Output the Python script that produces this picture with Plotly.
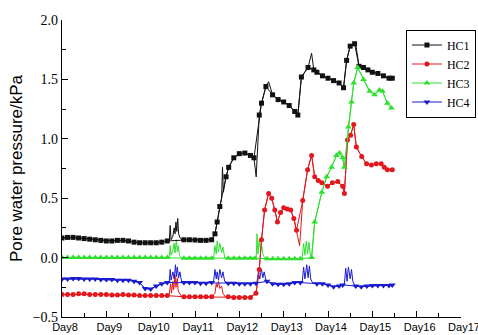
import plotly.graph_objects as go

# ---------------- data ----------------
day_ticks = [8, 9, 10, 11, 12, 13, 14, 15, 16, 17]
day_labels = ["Day8", "Day9", "Day10", "Day11", "Day12", "Day13", "Day14", "Day15", "Day16", "Day17"]
series_names = ["HC1", "HC2", "HC3", "HC4"]

# HC1 regular readings
hc1_t = [8.0, 8.125, 8.25, 8.375, 8.5, 8.625, 8.75, 8.875, 9.0, 9.125, 9.25, 9.375, 9.5, 9.625, 9.75,
         9.875, 10.0, 10.125, 10.25, 10.375, 10.75, 10.875, 11.0, 11.125, 11.25, 11.375, 11.45, 11.5,
         11.56, 11.7, 11.76, 11.875, 12.0, 12.125, 12.25, 12.33, 12.45, 12.5, 12.6, 12.75, 12.875,
         13.0, 13.125, 13.25, 13.32, 13.4, 13.55, 13.68, 13.75, 13.875, 14.0, 14.125, 14.25, 14.35,
         14.42, 14.5, 14.6, 14.7, 14.8, 14.9, 15.0, 15.125, 15.25, 15.375, 15.45]
hc1_v = [0.165, 0.17, 0.17, 0.165, 0.16, 0.155, 0.15, 0.145, 0.14, 0.14, 0.145, 0.145, 0.14, 0.13, 0.125,
         0.125, 0.125, 0.125, 0.13, 0.14, 0.15, 0.15, 0.148, 0.145, 0.145, 0.15, 0.2, 0.3,
         0.43, 0.68, 0.76, 0.84, 0.875, 0.88, 0.86, 0.84, 1.2, 1.3, 1.44, 1.37, 1.33,
         1.31, 1.28, 1.23, 1.2, 1.52, 1.6, 1.58, 1.56, 1.53, 1.51, 1.49, 1.47, 1.43,
         1.66, 1.78, 1.8, 1.61, 1.6, 1.58, 1.56, 1.55, 1.53, 1.51, 1.51]
# HC1 short fluctuations (drawn as thin line only)
hc1_spk_t = [10.42, 10.44, 10.46, 10.5, 10.53, 10.55, 10.57, 10.59, 10.61, 10.63, 10.66, 10.7,
             11.6, 11.62, 11.64, 12.38, 12.66, 13.63, 14.62]
hc1_spk_v = [0.14, 0.27, 0.15, 0.18, 0.25, 0.2, 0.3, 0.22, 0.33, 0.2, 0.17, 0.15,
             0.5, 0.76, 0.55, 0.68, 1.48, 1.72, 1.81]

# HC2
hc2_t = [8.0, 8.125, 8.25, 8.375, 8.5, 8.625, 8.75, 8.875, 9.0, 9.125, 9.25, 9.375, 9.5, 9.625, 9.75,
         9.875, 10.0, 10.125, 10.25, 10.375, 10.75, 10.875, 11.0, 11.125, 11.25, 11.375, 11.75, 11.875,
         12.0, 12.125, 12.25, 12.375, 12.45, 12.5, 12.57, 12.66, 12.73, 12.8, 12.86, 12.93, 13.0,
         13.08, 13.16, 13.23, 13.29, 13.43, 13.54, 13.63, 13.7, 13.78, 13.86, 13.99, 14.1, 14.22,
         14.33, 14.37, 14.44, 14.51, 14.58, 14.64, 14.76, 14.87, 14.98, 15.09, 15.2, 15.27, 15.34, 15.45]
hc2_v = [-0.31, -0.31, -0.31, -0.305, -0.305, -0.31, -0.31, -0.31, -0.31, -0.315, -0.315, -0.31, -0.315,
         -0.315, -0.32, -0.32, -0.32, -0.32, -0.32, -0.32, -0.33, -0.33, -0.33, -0.33, -0.33, -0.33,
         -0.33, -0.335, -0.335, -0.335, -0.335, -0.3, -0.1, 0.15, 0.4, 0.54, 0.5, 0.4, 0.3, 0.38, 0.42,
         0.41, 0.4, 0.33, 0.23, 0.48, 0.74, 0.86, 0.68, 0.65, 0.63, 0.6, 0.63, 0.64,
         0.6, 0.54, 0.99, 1.03, 1.12, 0.93, 0.85, 0.79, 0.78, 0.79, 0.79, 0.76, 0.74, 0.74]
hc2_spk_t = [10.42, 10.45, 10.47, 10.5, 10.52, 10.55, 10.57, 10.6, 10.62, 10.65, 10.7,
             11.45, 11.48, 11.5, 11.53, 11.56, 11.6, 11.63, 11.68, 13.36]
hc2_spk_v = [-0.31, -0.22, -0.3, -0.2, -0.27, -0.15, -0.25, -0.17, -0.28, -0.3, -0.33,
             -0.3, -0.22, -0.25, -0.2, -0.26, -0.24, -0.3, -0.33, 0.1]

# HC3
hc3_t = [8.0, 8.125, 8.25, 8.375, 8.5, 8.625, 8.75, 8.875, 9.0, 9.125, 9.25, 9.375, 9.5, 9.625, 9.75,
         9.875, 10.0, 10.125, 10.25, 10.375, 10.75, 10.875, 11.0, 11.125, 11.25, 11.375, 11.75, 11.875,
         12.0, 12.125, 12.25, 12.35, 12.625, 12.75, 12.875, 13.0, 13.125, 13.25, 13.375, 13.63,
         13.7, 13.86, 13.97, 14.08, 14.19, 14.26, 14.33, 14.37, 14.46, 14.53, 14.58, 14.67, 14.8,
         14.94, 15.05, 15.16, 15.23, 15.34, 15.43]
hc3_v = [0.0, 0.0, 0.0, 0.0, 0.0, 0.0, 0.0, 0.0, 0.0, 0.0, 0.0, 0.0, 0.0, 0.0, 0.0,
         0.0, 0.0, 0.0, 0.0, 0.0, -0.005, -0.005, -0.005, -0.005, -0.005, -0.005, -0.005, -0.005,
         -0.005, -0.005, -0.005, -0.005, -0.01, -0.01, -0.01, -0.01, -0.01, -0.01, -0.01, 0.0,
         0.3, 0.55, 0.68, 0.76, 0.86, 0.88, 0.84, 0.76, 1.1, 1.31, 1.47, 1.6, 1.5,
         1.4, 1.37, 1.41, 1.4, 1.3, 1.26]
hc3_spk_t = [10.42, 10.44, 10.46, 10.5, 10.53, 10.55, 10.58, 10.6, 10.62, 10.65, 10.7,
             11.42, 11.45, 11.48, 11.5, 11.53, 11.56, 11.6, 11.63, 11.67,
             12.38, 12.4, 12.42, 12.45, 12.48, 12.5, 12.53, 12.57,
             13.42, 13.45, 13.48, 13.51, 13.54, 13.57, 13.6]
hc3_spk_v = [0.0, 0.1, 0.02, 0.06, 0.12, 0.04, 0.15, 0.05, 0.1, 0.02, 0.0,
             0.0, 0.1, 0.03, 0.14, 0.05, 0.12, 0.04, 0.09, 0.0,
             0.0, 0.2, 0.03, 0.15, 0.05, 0.12, 0.03, 0.0,
             0.0, 0.12, 0.02, 0.14, 0.03, 0.13, 0.02]

# HC4
hc4_t = [8.0, 8.125, 8.25, 8.375, 8.5, 8.625, 8.75, 8.875, 9.0, 9.125, 9.25, 9.375, 9.5, 9.625, 9.75,
         9.875, 10.0, 10.125, 10.25, 10.375, 10.75, 10.875, 11.0, 11.125, 11.25, 11.375, 11.75, 11.875,
         12.0, 12.125, 12.25, 12.375, 12.625, 12.75, 12.875, 13.0, 13.125, 13.25, 13.375, 13.75,
         13.875, 14.0, 14.125, 14.25, 14.33, 14.625, 14.75, 14.875, 15.0, 15.125, 15.25, 15.375, 15.45]
hc4_v = [-0.18, -0.18, -0.175, -0.175, -0.18, -0.18, -0.18, -0.185, -0.185, -0.185, -0.19, -0.19, -0.19,
         -0.2, -0.21, -0.26, -0.265, -0.24, -0.22, -0.21, -0.21, -0.21, -0.21, -0.215, -0.215, -0.21,
         -0.215, -0.215, -0.22, -0.22, -0.22, -0.215, -0.2, -0.22, -0.225, -0.225, -0.22, -0.21, -0.21,
         -0.22, -0.22, -0.23, -0.245, -0.24, -0.23, -0.24, -0.245, -0.24, -0.235, -0.235, -0.235,
         -0.235, -0.23]
hc4_spk_t = [10.42, 10.44, 10.46, 10.5, 10.53, 10.56, 10.58, 10.6, 10.63, 10.66, 10.7,
             11.42, 11.45, 11.48, 11.5, 11.53, 11.56, 11.6, 11.63, 11.67,
             12.4, 12.43, 12.46, 12.5, 12.53, 12.56, 12.6,
             13.42, 13.45, 13.48, 13.52, 13.55, 13.58, 13.61, 13.65,
             14.37, 14.4, 14.43, 14.46, 14.5, 14.53, 14.56, 14.6]
hc4_spk_v = [-0.2, -0.1, -0.19, -0.12, -0.18, -0.06, -0.16, -0.08, -0.17, -0.12, -0.21,
             -0.2, -0.1, -0.18, -0.12, -0.19, -0.1, -0.17, -0.12, -0.2,
             -0.2, -0.12, -0.18, -0.1, -0.17, -0.12, -0.19,
             -0.2, -0.08, -0.18, -0.06, -0.17, -0.07, -0.18, -0.21,
             -0.22, -0.09, -0.2, -0.08, -0.18, -0.1, -0.2, -0.23]

# ---------------- styling ----------------
colors = ["#111111", "#e3171c", "#2ee02e", "#1a1ad0"]
symbols = ["square", "circle", "triangle-up", "triangle-down"]
msizes = [5, 5, 6, 6]

mains = [(hc1_t, hc1_v), (hc2_t, hc2_v), (hc3_t, hc3_v), (hc4_t, hc4_v)]
spikes = [(hc1_spk_t, hc1_spk_v), (hc2_spk_t, hc2_spk_v), (hc3_spk_t, hc3_spk_v), (hc4_spk_t, hc4_spk_v)]

fig = go.Figure()
for i, name in enumerate(series_names):
    t, v = mains[i]
    st, sv = spikes[i]
    merged = sorted(zip(list(t) + list(st), list(v) + list(sv)))
    fig.add_trace(go.Scatter(
        x=[p[0] for p in merged], y=[p[1] for p in merged], mode="lines",
        line=dict(color=colors[i], width=1), showlegend=False, hoverinfo="skip"))
for i, name in enumerate(series_names):
    t, v = mains[i]
    fig.add_trace(go.Scatter(
        x=t, y=v, mode="lines+markers", name=name,
        line=dict(color=colors[i], width=1),
        marker=dict(symbol=symbols[i], size=msizes[i], color=colors[i])))

fig.update_layout(
    width=478, height=335,
    margin=dict(l=62, r=17, t=20, b=18, autoexpand=False),
    paper_bgcolor="white", plot_bgcolor="white",
    legend=dict(x=0.862, y=0.968, xanchor="left", yanchor="top",
                bgcolor="white", bordercolor="black", borderwidth=1,
                font=dict(family="Liberation Serif", size=12, color="black"),
                tracegroupgap=0),
)
fig.update_xaxes(
    range=[8, 17], tickvals=day_ticks, ticktext=day_labels,
    showline=True, linecolor="black", linewidth=1.2, showgrid=False, zeroline=False,
    ticks="inside", ticklen=6, tickcolor="black",
    minor=dict(dtick=0.5, ticks="inside", ticklen=4, tickcolor="black", showgrid=False),
    tickfont=dict(family="Liberation Sans", size=11, color="black"),
    ticklabelshift=3, ticklabeloverflow="allow",
)
fig.update_yaxes(
    range=[-0.5, 2.0], dtick=0.5, tick0=0, tickformat=".1f",
    showline=True, linecolor="black", linewidth=1.2, showgrid=False, zeroline=False,
    ticks="inside", ticklen=6, tickcolor="black",
    minor=dict(dtick=0.25, ticks="inside", ticklen=4, tickcolor="black", showgrid=False),
    tickfont=dict(family="Liberation Serif", size=14, color="black"),
    title=dict(text="Pore water pressure/kPa", standoff=5,
               font=dict(family="Liberation Sans", size=17, color="black")),
    automargin=False,
)
fig.write_html("out.html", config={"displayModeBar": False},
               post_script="document.body.style.margin='0';")
